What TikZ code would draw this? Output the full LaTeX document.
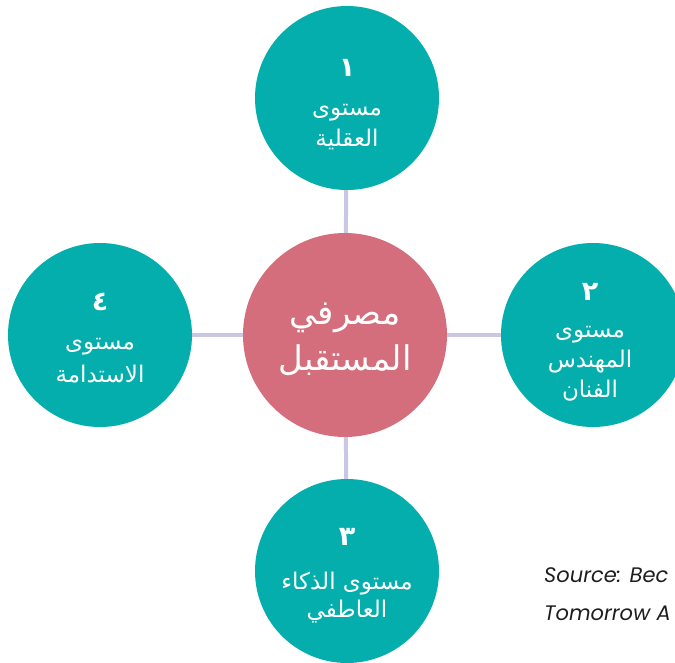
\documentclass[tikz,border=0pt]{standalone}
\usepackage{fontspec}
\TeXXeTstate=1
\newfontfamily\arabicfont[Script=Arabic]{DejaVu Sans}
\newfontfamily\latinfont{Poppins}
\usetikzlibrary{backgrounds}
\definecolor{tealfill}{RGB}{3,174,173}
\definecolor{rosefill}{RGB}{213,110,124}
\definecolor{linkcol}{RGB}{200,200,230}
\definecolor{srccol}{RGB}{30,30,30}
\tikzset{
  level/.style={circle, fill=tealfill, minimum size=184pt, inner sep=0pt},
  hub/.style={circle, fill=rosefill, minimum size=204pt, inner sep=0pt},
  link/.style={draw=linkcol, line width=4pt},
  num/.style={text=white, font=\arabicfont\bfseries\fontsize{27}{32}\selectfont, inner sep=0pt},
  lbl/.style={text=white, font=\arabicfont\fontsize{23}{26}\selectfont, inner sep=0pt},
  hublbl/.style={text=white, font=\arabicfont\fontsize{34}{38}\selectfont, inner sep=0pt},
  src/.style={text=srccol, font=\latinfont\itshape\fontsize{21}{25}\selectfont, anchor=base west, inner sep=0pt}
}
\begin{document}
\begin{tikzpicture}[x=1pt, y=-1pt]
\useasboundingbox (0,0) rectangle (675,662);
\clip (0,0) rectangle (675,662);

% hub and the four levels
\node[hub] (hub) at (345,335) {};
\node[level] (top) at (347,98) {};
\node[level] (right) at (593,335) {};
\node[level] (bottom) at (347,571) {};
\node[level] (left) at (100,335) {};

% spokes behind the circles
\begin{scope}[on background layer]
  \draw[link] (hub.center) -- (top.center);
  \draw[link] (hub.center) -- (right.center);
  \draw[link] (hub.center) -- (bottom.center);
  \draw[link] (hub.center) -- (left.center);
\end{scope}

% hub text
\node[hublbl] (hubA) at (345,318) {\beginR مصرفي\endR};
\node[hublbl] (hubB) at (345,360) {\beginR المستقبل\endR};

% level 1
\node[num] (n1) at (347,68) {١};
\node[lbl] (t1a) at (347,113) {\beginR مستوى\endR};
\node[lbl] (t1b) at (347,139) {\beginR العقلية\endR};

% level 2
\node[num] (n2) at (590,292) {٢};
\node[lbl] (t2a) at (590,335) {\beginR مستوى\endR};
\node[lbl] (t2b) at (590,362) {\beginR المهندس\endR};
\node[lbl] (t2c) at (590,391) {\beginR الفنان\endR};

% level 3
\node[num] (n3) at (347,537) {٣};
\node[lbl] (t3a) at (347,584) {\beginR مستوى الذكاء\endR};
\node[lbl] (t3b) at (347,612) {\beginR العاطفي\endR};

% level 4
\node[num] (n4) at (100,302) {٤};
\node[lbl] (t4a) at (100,347) {\beginR مستوى\endR};
\node[lbl] (t4b) at (100,374) {\beginR الاستدامة\endR};

% source note
\node[src] (srcA) at (544,582) {Source: Bec};
\node[src] (srcB) at (544,620) {Tomorrow A};
\end{tikzpicture}
\end{document}
